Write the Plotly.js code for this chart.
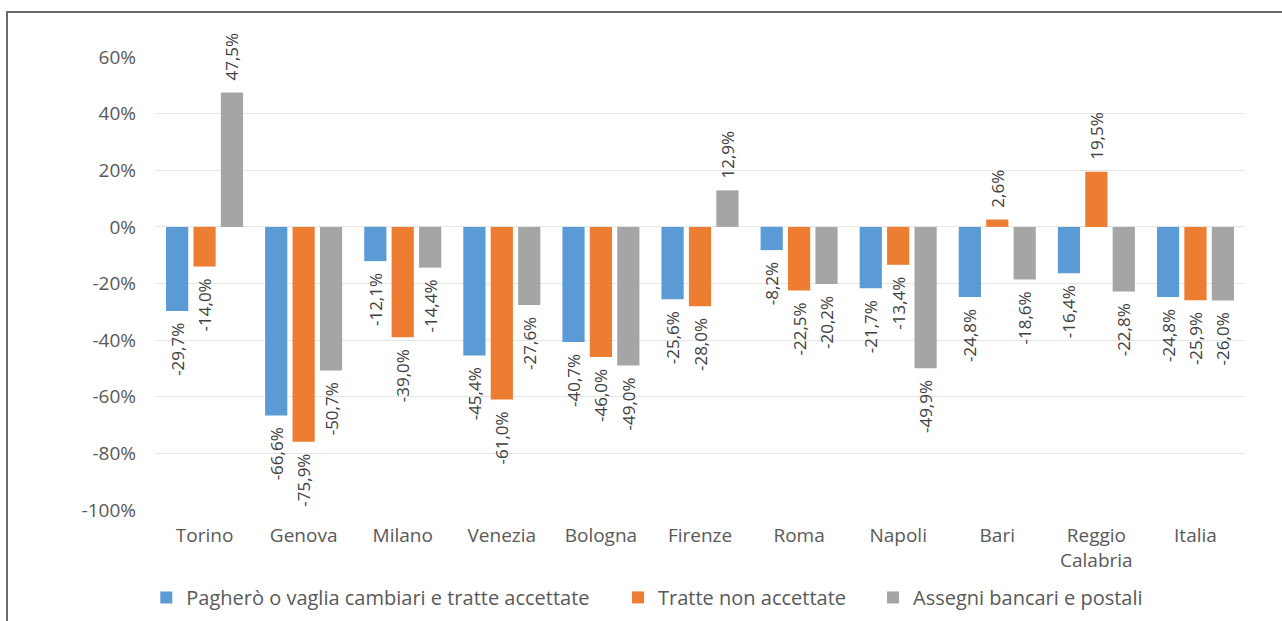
<!DOCTYPE html>
<html>
<head>
<meta charset="utf-8">
<script src="https://cdn.plot.ly/plotly-3.0.1.min.js"></script>
<style>
  html, body { margin: 0; padding: 0; background: #fff; }
  #chart { width: 1282px; height: 621px; }
  #frame { position: absolute; left: 6px; top: 11px; width: 1400px; height: 700px;
           border-top: 2px solid #6b6b6b; border-left: 2px solid #6b6b6b; pointer-events: none; }
</style>
</head>
<body>
<div id="chart"></div>
<div id="frame"></div>
<script>
const categories = ["Torino", "Genova", "Milano", "Venezia", "Bologna", "Firenze", "Roma", "Napoli", "Bari", "Reggio<br>Calabria", "Italia"];
const seriesNames = ["Pagherò o vaglia cambiari e tratte accettate", "Tratte non accettate", "Assegni bancari e postali"];
const pagheroValues = [-29.7, -66.6, -12.1, -45.4, -40.7, -25.6, -8.2, -21.7, -24.8, -16.4, -24.8];
const tratteValues = [-14.0, -75.9, -39.0, -61.0, -46.0, -28.0, -22.5, -13.4, 2.6, 19.5, -25.9];
const assegniValues = [47.5, -50.7, -14.4, -27.6, -49.0, 12.9, -20.2, -49.9, -18.6, -22.8, -26.0];
const yTickValues = [-100, -80, -60, -40, -20, 0, 20, 40, 60];
const yTickLabels = ["-100%", "-80%", "-60%", "-40%", "-20%", "0%", "20%", "40%", "60%"];
const colors = ["#5B9BD5", "#ED7D31", "#A5A5A5"];

const FONT = "'Open Sans', 'DejaVu Sans', sans-serif";
const PAD = "\u00A0\u00A0";
function fmt(v) {
  const s = v.toFixed(1).replace(".", ",") + "%";
  return v >= 0 ? PAD + s : s + PAD;
}

const allSeries = [pagheroValues, tratteValues, assegniValues];
const legendIds = ["legend", "legend2", "legend3"];
const traces = allSeries.map((vals, i) => ({
  type: "bar",
  name: seriesNames[i],
  legend: legendIds[i],
  x: categories,
  y: vals,
  marker: { color: colors[i] },
  text: vals.map(fmt),
  textposition: "outside",
  textangle: -90,
  constraintext: "none",
  cliponaxis: false,
  textfont: { family: FONT, size: 17, color: "#404040" },
  hoverinfo: "none"
}));

function legendAt(x) {
  return {
    orientation: "h",
    x: x, xanchor: "left",
    y: -0.193, yanchor: "middle",
    font: { family: FONT, size: 20, color: "#595959" },
    itemwidth: 30,
    bgcolor: "rgba(0,0,0,0)"
  };
}

const layout = {
  width: 1282, height: 621,
  margin: { l: 155, r: 37, t: 57, b: 111, autoexpand: false },
  paper_bgcolor: "#ffffff",
  plot_bgcolor: "#ffffff",
  barmode: "group",
  bargap: 0.17,
  bargroupgap: 0.19,
  font: { family: FONT, size: 19, color: "#595959" },
  xaxis: {
    type: "category", automargin: false,
    showline: false, showgrid: false, zeroline: false,
    ticks: "", ticklabelstandoff: 12,
    tickfont: { family: FONT, size: 19, color: "#595959" }
  },
  yaxis: {
    range: [-100, 60], automargin: false,
    tickvals: yTickValues, ticktext: yTickLabels,
    showgrid: true, gridcolor: "#e6e6e6", gridwidth: 1,
    zeroline: true, zerolinecolor: "#e6e6e6", zerolinewidth: 1,
    showline: false, ticks: "", ticklabelstandoff: 18,
    tickfont: { family: FONT, size: 19, color: "#595959" }
  },
  showlegend: true,
  legend: legendAt(-0.008),
  legend2: legendAt(0.4248),
  legend3: legendAt(0.6587)
};

Plotly.newPlot("chart", traces, layout, { displayModeBar: false, staticPlot: true });
</script>
</body>
</html>
